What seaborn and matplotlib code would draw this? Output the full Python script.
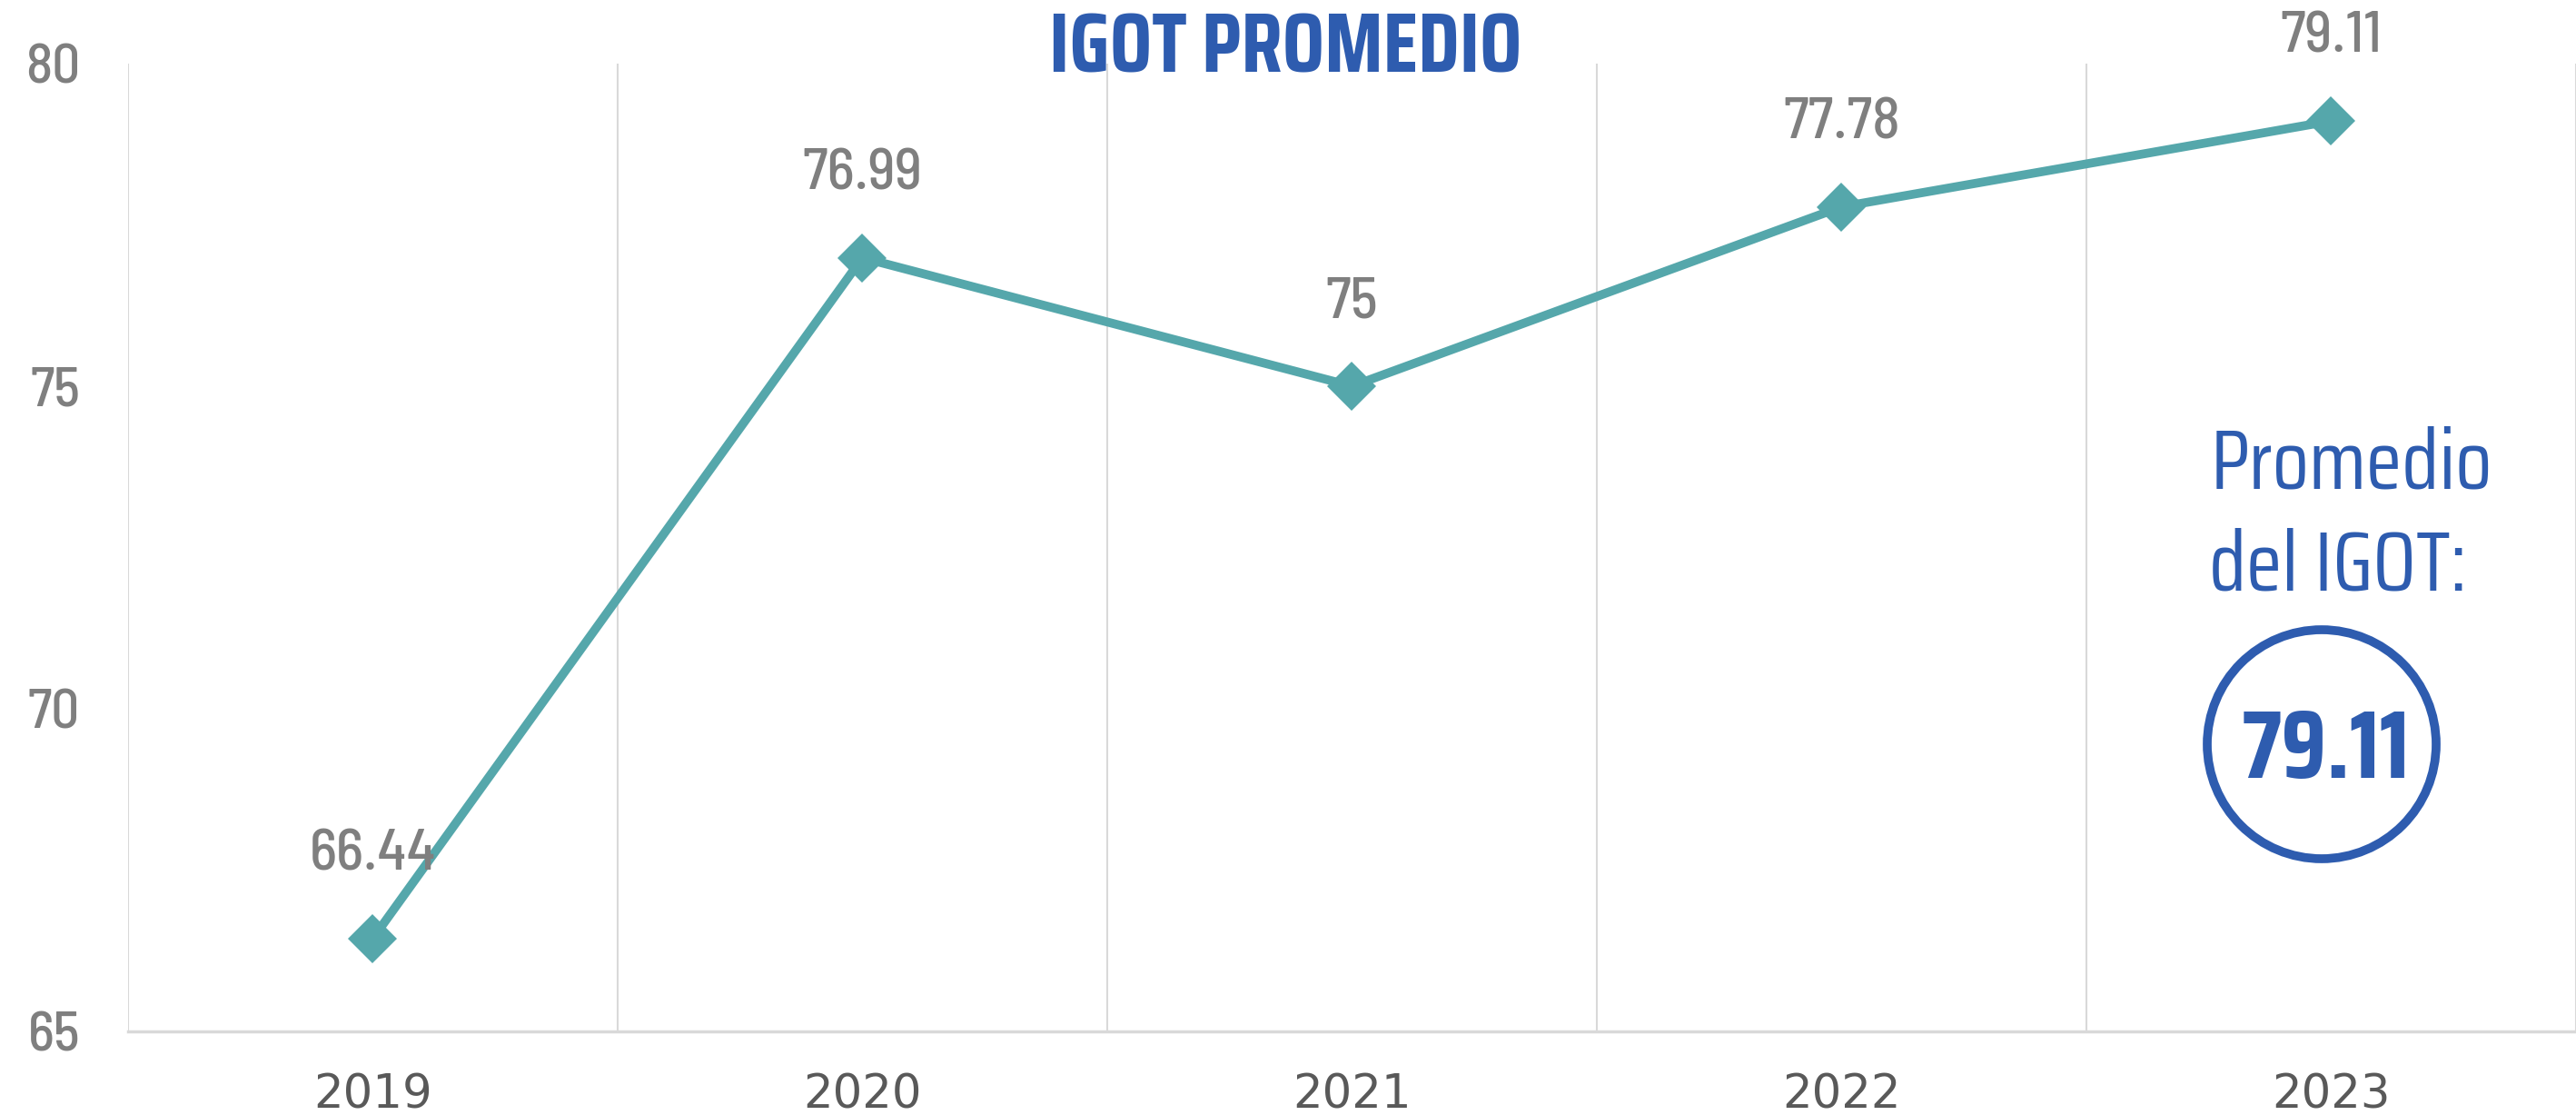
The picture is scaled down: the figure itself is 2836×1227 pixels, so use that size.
import matplotlib
matplotlib.use("Agg")
import matplotlib.pyplot as plt
from matplotlib.patches import Circle
import seaborn as sns
import pandas as pd

# Data
years = ["2019", "2020", "2021", "2022", "2023"]
igot = [66.44, 76.99, 75.00, 77.78, 79.11]
labels = ["66.44", "76.99", "75", "77.78", "79.11"]
yticks = [65, 70, 75, 80]
promedio = "79.11"

TEAL = "#55a7ab"
BLUE = "#2e5caf"
GRID = "#d9d9d9"
GRAY_FONT = ["Barlow Semi Condensed", "DejaVu Sans"]
BLUE_FONT = ["Saira Condensed", "DejaVu Sans"]

sns.set_style("white")
plt.rcParams["font.family"] = ["DejaVu Sans"]

df = pd.DataFrame({"year": years, "igot": igot})

fig = plt.figure(figsize=(28.36, 12.27), dpi=100)
ax = fig.add_axes([0.0497, 0.075, 0.9503, 0.868])

# Line with diamond markers
sns.pointplot(data=df, x="year", y="igot", color=TEAL, markers="D",
              errorbar=None, ax=ax)
for line in ax.lines:
    line.set_linewidth(7)
    line.set_markersize(27)
    line.set_markeredgewidth(0)

ax.set_ylim(65, 80)
ax.set_xlim(-0.5, 4.48)
ax.set_yticks(yticks)
ax.set_yticklabels([str(t) for t in yticks], fontsize=44, color="#7f7f7f",
                   fontfamily=GRAY_FONT, fontweight=500)
ax.set_xticks(range(len(years)))
ax.set_xticklabels(years, fontsize=37, color="#595959")
ax.tick_params(axis="y", length=0, pad=38)
ax.tick_params(axis="x", length=0, pad=33)
ax.set_xlabel("")
ax.set_ylabel("")

# Vertical separators between categories
ax.set_xticks([i - 0.5 for i in range(len(years) + 1)], minor=True)
ax.tick_params(axis="x", which="minor", length=0)
ax.grid(False)
ax.grid(True, axis="x", which="minor", color=GRID, linewidth=1.5)
for side in ["top", "right", "left"]:
    ax.spines[side].set_visible(False)
ax.spines["bottom"].set_color(GRID)
ax.spines["bottom"].set_linewidth(2.5)

# Data labels
for i, (v, lab) in enumerate(zip(igot, labels)):
    ax.annotate(lab, (i, v), xytext=(0, 66), textcoords="offset points",
                ha="center", va="center", fontsize=46, color="#7f7f7f",
                fontfamily=GRAY_FONT, fontweight=500, annotation_clip=False)

# Title
fig.text(0.499, 0.956, "IGOT PROMEDIO", ha="center", va="center",
         fontsize=66, fontweight="bold", color=BLUE, fontfamily=BLUE_FONT)

# Side note
fig.text(2434 / 2836, 1 - 538 / 1227, "Promedio", ha="left", va="baseline",
         fontsize=66, color=BLUE, fontfamily=BLUE_FONT)
fig.text(2432 / 2836, 1 - 650 / 1227, "del IGOT:", ha="left", va="baseline",
         fontsize=66, color=BLUE, fontfamily=BLUE_FONT)
fig.text(2560 / 2836, 1 - 856 / 1227, promedio, ha="center", va="baseline",
         fontsize=76, fontweight="bold", color=BLUE, fontfamily=BLUE_FONT)
ring = Circle((25.56, (1227 - 819) / 100), 1.26, transform=fig.dpi_scale_trans,
              fill=False, edgecolor=BLUE, linewidth=7)
fig.patches.append(ring)

fig.savefig("out.png", dpi=100)
